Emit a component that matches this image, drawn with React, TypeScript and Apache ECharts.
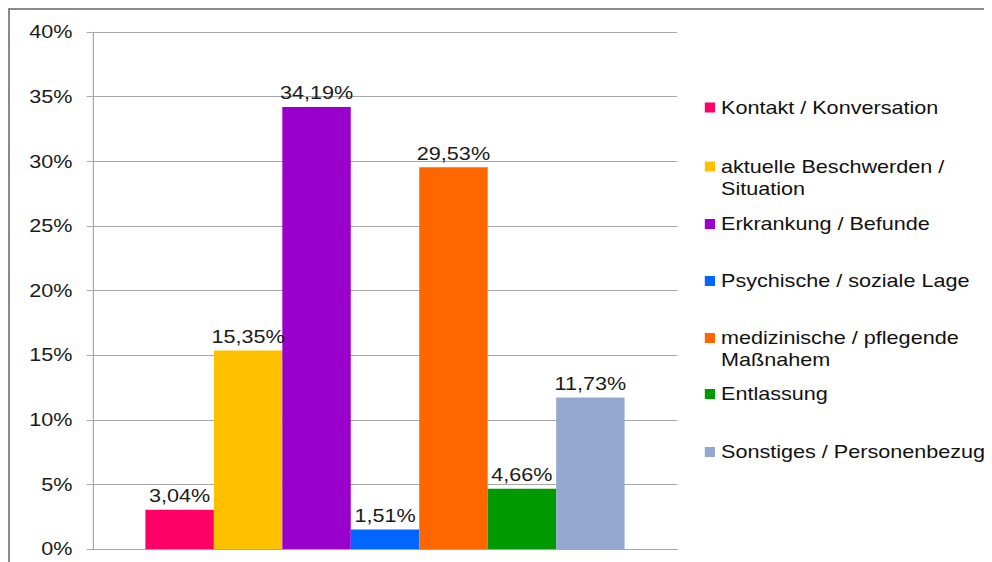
import React, { useEffect, useRef } from "react";
import * as echarts from "echarts";

const categories = [""];
const seriesNames = [
  "Kontakt / Konversation",
  "aktuelle Beschwerden /\nSituation",
  "Erkrankung / Befunde",
  "Psychische / soziale Lage",
  "medizinische / pflegende\nMaßnahem",
  "Entlassung",
  "Sonstiges / Personenbezug",
];
const seriesValues = [3.04, 15.35, 34.19, 1.51, 29.53, 4.66, 11.73];
const seriesColors = ["#FF0066", "#FFC000", "#9900CC", "#0066FF", "#FF6600", "#009900", "#95A9D0"];
const yTicks = { min: 0, max: 40, interval: 5 };
const legendTops = [86.5, 123.5, 203, 260, 295, 373, 431];

const FONT = "'Liberation Sans', Arial, sans-serif";
const SCALE_X = 1.2;

export default function App() {
  const ref = useRef<HTMLDivElement>(null);
  useEffect(() => {
    if (!ref.current) return;
    const chart = echarts.init(ref.current, undefined, { renderer: "svg", width: 818, height: 552 });
    const option = {
      animation: false,
      textStyle: { fontFamily: FONT },
      grid: { left: 69, right: 262, top: 22, bottom: 13, containLabel: false },
      xAxis: {
        type: "category",
        data: categories,
        axisLine: { show: true, lineStyle: { color: "#a6a6a6", width: 1 } },
        axisTick: { show: false },
        axisLabel: { show: false },
        splitLine: { show: false },
      },
      yAxis: {
        type: "value",
        min: yTicks.min,
        max: yTicks.max,
        interval: yTicks.interval,
        axisLine: { show: true, lineStyle: { color: "#a6a6a6", width: 1 } },
        axisTick: { show: true, length: 5, lineStyle: { color: "#a6a6a6" } },
        axisLabel: {
          margin: 17,
          fontSize: 18,
          color: "#1a1a1a",
          fontFamily: FONT,
          formatter: "{value}%",
        },
        splitLine: { show: true, lineStyle: { color: "#a6a6a6", width: 1 } },
      },
      legend: seriesNames.map((name, i) => ({
        data: [name],
        orient: "vertical",
        left: 579,
        top: legendTops[i],
        padding: 0,
        itemWidth: 8.5,
        itemHeight: 10,
        icon: "rect",
        selectedMode: false,
        formatter: (n: string) => (n.includes("\n") ? "\n" + n : n),
        textStyle: {
          fontSize: 18,
          lineHeight: 22,
          color: "#111",
          fontFamily: FONT,
        },
      })),
      series: seriesNames.map((name, i) => ({
        name,
        type: "bar",
        data: [seriesValues[i]],
        barGap: "0%",
        barCategoryGap: "18%",
        itemStyle: { color: seriesColors[i] },
        label: {
          show: true,
          position: "top",
          distance: 5,
          fontSize: 18,
          color: "#1a1a1a",
          fontFamily: FONT,
          formatter: (p: any) => p.value.toFixed(2).replace(".", ",") + "%",
        },
      })),
    };
    chart.setOption(option as any);
    return () => chart.dispose();
  }, []);
  return (
    <div
      style={{
        position: "relative",
        width: 984,
        height: 554,
        boxSizing: "border-box",
        borderTop: "2px solid #8a8a8a",
        borderLeft: "2px solid #8a8a8a",
        overflow: "hidden",
        background: "#fff",
      }}
    >
      <div
        ref={ref}
        style={{
          position: "absolute",
          left: 0,
          top: 0,
          width: 818,
          height: 552,
          transform: `scaleX(${SCALE_X})`,
          transformOrigin: "0 0",
        }}
      />
    </div>
  );
}
